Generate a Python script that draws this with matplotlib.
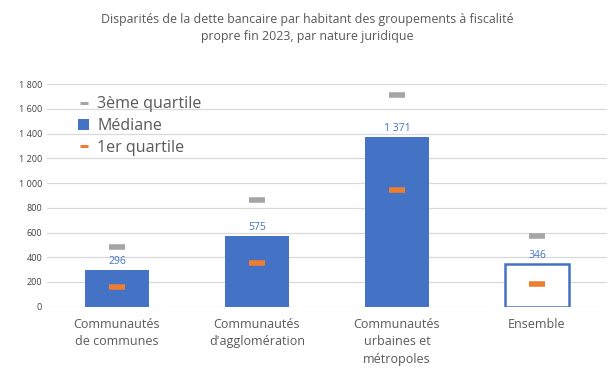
import numpy as np
import matplotlib.pyplot as plt
from matplotlib.lines import Line2D
from matplotlib.patches import Patch

categories = ["Communautés\nde communes", "Communautés\nd'agglomération",
              "Communautés\nurbaines et\nmétropoles", "Ensemble"]
mediane = [296, 575, 1371, 346]
q3 = [485, 866, 1716, 574]
q1 = [162, 351, 947, 186]
yticks = [0, 200, 400, 600, 800, 1000, 1200, 1400, 1600, 1800]

blue = "#4472C4"
orange = "#ED7D31"
grey = "#A5A5A5"
text_grey = "#595959"

plt.rcParams['font.family'] = ['Open Sans', 'DejaVu Sans']

fig = plt.figure(figsize=(6.14, 3.77), dpi=100)
ax = fig.add_axes([0.0765, 0.1865, 0.912, 0.59])

x = np.arange(len(categories))
bw = 0.457
for i in range(len(categories)):
  if i == len(categories) - 1:
    ax.bar(x[i], mediane[i], width=bw, facecolor="white", edgecolor=blue, linewidth=1.8, zorder=2)
  else:
    ax.bar(x[i], mediane[i], width=bw, color=blue, zorder=2)
  lab = f"{mediane[i]:,}".replace(",", " ")
  ax.text(x[i], mediane[i] + 25, lab, ha="center", va="bottom", color=blue, fontsize=7.5)

ax.scatter(x, q3, marker="_", s=130, linewidths=4, color=grey, zorder=3)
ax.scatter(x, q1, marker="_", s=130, linewidths=4, color=orange, zorder=3)

ax.set_xlim(-0.5, 3.5)
ax.set_ylim(0, 1800)
ax.set_yticks(yticks)
ax.set_yticklabels([f"{v:,}".replace(",", " ") for v in yticks], fontsize=6.5, color="#404040")
ax.set_xticks(x)
ax.set_xticklabels(categories, fontsize=9, color=text_grey, va="top", linespacing=1.45)
ax.tick_params(length=0)
ax.tick_params(axis="x", pad=8)
ax.grid(axis="y", color="#D9D9D9", linewidth=0.9, zorder=0)
ax.set_axisbelow(True)
for s in ax.spines.values():
  s.set_visible(False)

handles = [Line2D([], [], color=grey, marker="_", linestyle="none", markersize=6, markeredgewidth=2.2),
           Patch(facecolor=blue),
           Line2D([], [], color=orange, marker="_", linestyle="none", markersize=6, markeredgewidth=2.2)]
ax.legend(handles, ["3ème quartile", "Médiane", "1er quartile"], loc="upper left",
          bbox_to_anchor=(0.03, 1.01), frameon=False, fontsize=11.5, labelcolor=text_grey,
          handlelength=0.7, handletextpad=0.5, labelspacing=0.35)

fig.text(0.5, 0.965, "Disparités de la dette bancaire par habitant des groupements à fiscalité\npropre fin 2023, par nature juridique",
         ha="center", va="top", fontsize=8.9, color=text_grey, linespacing=1.4)

fig.savefig("out.png", dpi=100)
